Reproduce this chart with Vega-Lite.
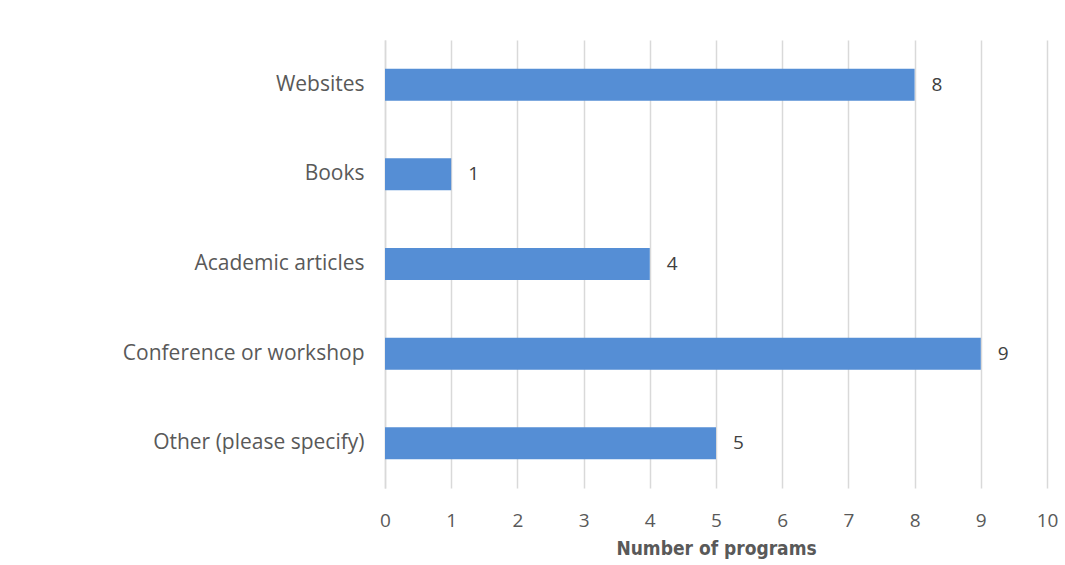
{
  "$schema": "https://vega.github.io/schema/vega-lite/v6.json",
  "width": 662,
  "height": 448,
  "autosize": {"type": "none"},
  "padding": {"left": 385, "top": 40, "right": 18, "bottom": 77},
  "background": "white",
  "config": {
    "view": {"stroke": null},
    "font": "Open Sans",
    "axis": {"labelColor": "#595959", "titleColor": "#595959"}
  },
  "data": {
    "values": [
      {"source": "Websites", "programs": 8},
      {"source": "Books", "programs": 1},
      {"source": "Academic articles", "programs": 4},
      {"source": "Conference or workshop", "programs": 9},
      {"source": "Other (please specify)", "programs": 5}
    ]
  },
  "encoding": {
    "y": {
      "field": "source",
      "type": "nominal",
      "sort": null,
      "scale": {"paddingInner": 0.643, "paddingOuter": 0.32},
      "axis": {
        "title": null,
        "ticks": false,
        "domain": true,
        "domainColor": "#D9D9D9",
        "domainWidth": 1.5,
        "labelFontSize": 21,
        "labelPadding": 21,
        "labelLimit": 400
      }
    },
    "x": {
      "field": "programs",
      "type": "quantitative",
      "scale": {"domain": [0, 10], "nice": false},
      "axis": {
        "title": "Number of programs",
        "titleFont": "DejaVu Sans Condensed",
        "titleFontWeight": "bold",
        "titleFontSize": 19,
        "titlePadding": 9,
        "values": [0,1,2,3,4,5,6,7,8,9,10],
        "labelOverlap": false,
        "labelFlush": false,
        "ticks": false,
        "domain": false,
        "grid": true,
        "gridColor": "#D9D9D9",
        "gridWidth": 1.5,
        "labelFontSize": 19,
        "labelPadding": 23
      }
    }
  },
  "layer": [
    {"mark": {"type": "bar", "color": "#558ED5"}},
    {
      "mark": {"type": "text", "align": "left", "dx": 17, "fontSize": 19, "color": "#404040"},
      "encoding": {"text": {"field": "programs", "type": "quantitative"}}
    }
  ]
}
